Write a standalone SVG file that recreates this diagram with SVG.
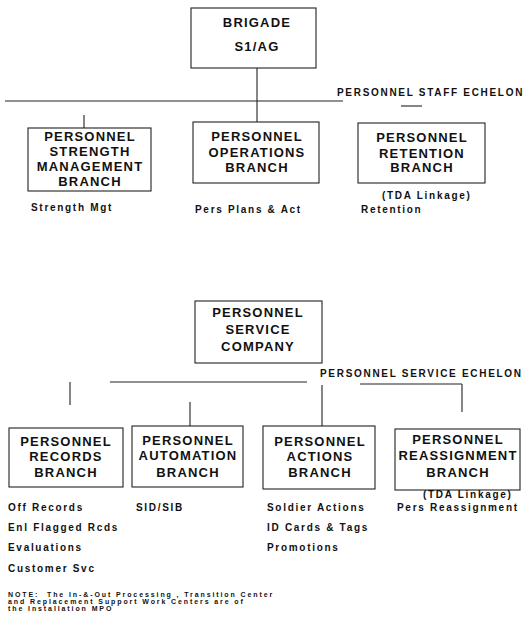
<svg xmlns="http://www.w3.org/2000/svg" width="527" height="618" viewBox="0 0 527 618">
  <style>
    .box { fill: none; stroke: #222; stroke-width: 1.1; }
    .ln { fill: none; stroke: #222; stroke-width: 1.1; }
    .t { font-family: "Liberation Sans", Arial, sans-serif; font-weight: bold; font-size: 13px; letter-spacing: 1.2px; text-anchor: middle; fill: #111; }
    .lbl { font-family: "Liberation Sans", Arial, sans-serif; font-weight: bold; font-size: 10px; letter-spacing: 1.7px; fill: #111; }
    .note { font-family: "Liberation Sans", Arial, sans-serif; font-weight: bold; font-size: 7px; letter-spacing: 1.9px; fill: #111; white-space: pre; }
  </style>
  <rect width="527" height="618" fill="#fff"/>

  <!-- connectors -->
  <g id="connectors">
    <!-- staff echelon -->
    <line class="ln" x1="257" y1="68" x2="257" y2="122"/>
    <line class="ln" x1="5" y1="101" x2="343" y2="101"/>
    <line class="ln" x1="84" y1="115" x2="84" y2="128"/>
    <line class="ln" x1="401" y1="106" x2="422" y2="106"/>
    <!-- service echelon -->
    <line class="ln" x1="110" y1="382" x2="307" y2="382"/>
    <line class="ln" x1="70" y1="382" x2="70" y2="405"/>
    <line class="ln" x1="190" y1="402" x2="190" y2="426"/>
    <line class="ln" x1="322" y1="385" x2="322" y2="426"/>
    <line class="ln" x1="360" y1="384" x2="462" y2="384"/>
    <line class="ln" x1="462" y1="384" x2="462" y2="412"/>
  </g>

  <!-- staff echelon nodes -->
  <g id="brigade">
    <rect class="box" x="191" y="8" width="125" height="60"/>
    <text class="t" x="257" y="27">BRIGADE</text>
    <text class="t" x="257" y="51">S1/AG</text>
  </g>
  <text class="lbl" x="337" y="96">PERSONNEL STAFF ECHELON</text>

  <g id="strength">
    <rect class="box" x="28" y="128" width="123" height="63"/>
    <text class="t" x="90" y="141">PERSONNEL</text>
    <text class="t" x="90" y="156">STRENGTH</text>
    <text class="t" x="90" y="171">MANAGEMENT</text>
    <text class="t" x="90" y="186">BRANCH</text>
    <text class="lbl" x="31" y="211">Strength Mgt</text>
  </g>

  <g id="operations">
    <rect class="box" x="193" y="122" width="126" height="61"/>
    <text class="t" x="257" y="141">PERSONNEL</text>
    <text class="t" x="257" y="157">OPERATIONS</text>
    <text class="t" x="257" y="172">BRANCH</text>
    <text class="lbl" x="195" y="213">Pers Plans &amp; Act</text>
  </g>

  <g id="retention">
    <rect class="box" x="358" y="123" width="127" height="60"/>
    <text class="t" x="422" y="142">PERSONNEL</text>
    <text class="t" x="422" y="158">RETENTION</text>
    <text class="t" x="422" y="172">BRANCH</text>
    <text class="lbl" x="382" y="199">(TDA Linkage)</text>
    <text class="lbl" x="361" y="213">Retention</text>
  </g>

  <!-- service echelon nodes -->
  <g id="service-company">
    <rect class="box" x="195" y="301" width="127" height="62"/>
    <text class="t" x="258" y="317">PERSONNEL</text>
    <text class="t" x="258" y="334">SERVICE</text>
    <text class="t" x="258" y="351">COMPANY</text>
  </g>
  <text class="lbl" x="320" y="377">PERSONNEL SERVICE ECHELON</text>

  <g id="records">
    <rect class="box" x="9" y="428" width="114" height="59"/>
    <text class="t" x="66" y="446">PERSONNEL</text>
    <text class="t" x="66" y="461">RECORDS</text>
    <text class="t" x="66" y="477">BRANCH</text>
    <text class="lbl" x="8" y="511">Off Records</text>
    <text class="lbl" x="8" y="531">Enl Flagged Rcds</text>
    <text class="lbl" x="8" y="551">Evaluations</text>
    <text class="lbl" x="8" y="572">Customer Svc</text>
  </g>

  <g id="automation">
    <rect class="box" x="132" y="426" width="111" height="61"/>
    <text class="t" x="188" y="445">PERSONNEL</text>
    <text class="t" x="188" y="460">AUTOMATION</text>
    <text class="t" x="188" y="477">BRANCH</text>
    <text class="lbl" x="136" y="511">SID/SIB</text>
  </g>

  <g id="actions">
    <rect class="box" x="263" y="426" width="112" height="63"/>
    <text class="t" x="320" y="446">PERSONNEL</text>
    <text class="t" x="320" y="461">ACTIONS</text>
    <text class="t" x="320" y="477">BRANCH</text>
    <text class="lbl" x="267" y="511">Soldier Actions</text>
    <text class="lbl" x="267" y="531">ID Cards &amp; Tags</text>
    <text class="lbl" x="267" y="551">Promotions</text>
  </g>

  <g id="reassignment">
    <rect class="box" x="395" y="429" width="125" height="61"/>
    <text class="t" x="458" y="444">PERSONNEL</text>
    <text class="t" x="458" y="460">REASSIGNMENT</text>
    <text class="t" x="458" y="477">BRANCH</text>
    <text class="lbl" x="423" y="498">(TDA Linkage)</text>
    <text class="lbl" x="397" y="511">Pers Reassignment</text>
  </g>

  <!-- footnote -->
  <text class="note" x="8" y="597">NOTE:  The In-&amp;-Out Processing , Transition Center</text>
  <text class="note" x="8" y="604">and Replacement Support Work Centers are of</text>
  <text class="note" x="8" y="611">the Installation MPO</text>
</svg>
